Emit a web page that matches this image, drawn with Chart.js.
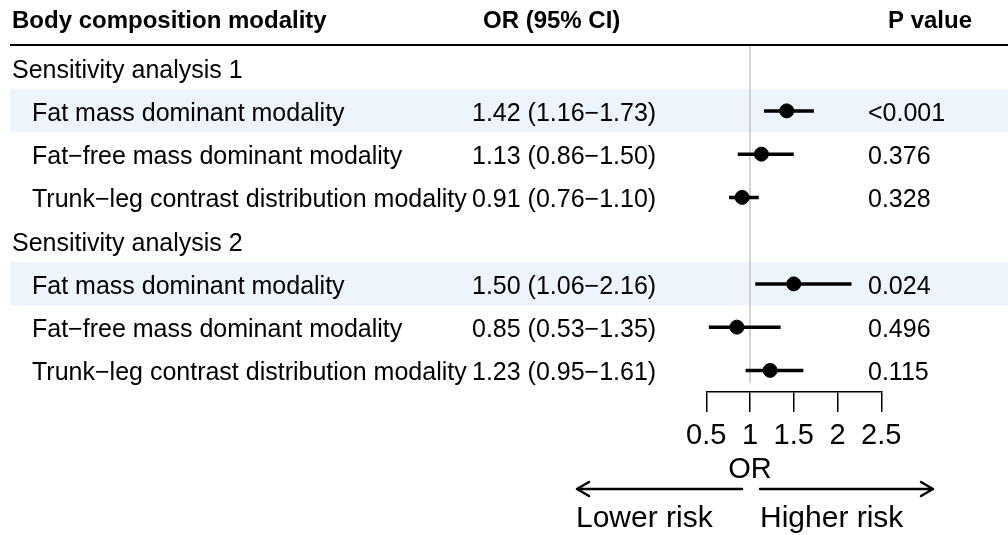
<!DOCTYPE html>
<html>
<head>
<meta charset="utf-8">
<script src="https://cdn.jsdelivr.net/npm/chart.js@4"></script>
<style>
  body { margin: 0; background: #fff; }
</style>
</head>
<body>
<canvas id="forest" width="1008" height="535"></canvas>
<script>
// Forest plot data
const groups = ["Sensitivity analysis 1", "Sensitivity analysis 2"];
const modalities = ["Fat mass dominant modality", "Fat\u2212free mass dominant modality", "Trunk\u2212leg contrast distribution modality"];
const orValues = [1.42, 1.13, 0.91, 1.50, 0.85, 1.23];
const ciLow = [1.16, 0.86, 0.76, 1.06, 0.53, 0.95];
const ciHigh = [1.73, 1.50, 1.10, 2.16, 1.35, 1.61];
const pValues = ["<0.001", "0.376", "0.328", "0.024", "0.496", "0.115"];
const xTicks = [0.5, 1, 1.5, 2, 2.5];
const highlighted = [0, 3]; // item indices with shaded band

const FONT = '"Liberation Sans", Arial, sans-serif';

// rows: group header, then its 3 items
const rows = [];
groups.forEach((g, gi) => {
  rows.push({ type: "group", text: g });
  modalities.forEach((m, mi) => rows.push({ type: "item", text: m, idx: gi * modalities.length + mi }));
});
const rowOf = idx => rows.findIndex(r => r.type === "item" && r.idx === idx);

const ciSets = orValues.map((v, i) => ({
  type: "scatter",
  showLine: true,
  data: [{ x: ciLow[i], y: rowOf(i) }, { x: ciHigh[i], y: rowOf(i) }],
  borderColor: "#000",
  borderWidth: 3.5,
  pointRadius: 0,
  order: 2
}));

const pointSet = {
  type: "scatter",
  data: orValues.map((v, i) => ({ x: v, y: rowOf(i) })),
  backgroundColor: "#000",
  borderColor: "#000",
  pointRadius: 7,
  order: 1
};

const tablePlugin = {
  id: "table",
  beforeDatasetsDraw(chart) {
    const { ctx, scales: { x, y }, chartArea } = chart;
    ctx.save();
    // shaded bands
    ctx.fillStyle = "#edf4fc";
    highlighted.forEach(i => {
      const r = rowOf(i);
      const t = y.getPixelForValue(r - 0.5), b = y.getPixelForValue(r + 0.5);
      ctx.fillRect(10, t, 1008 - 10, b - t);
    });
    // header rule
    ctx.fillStyle = "#000";
    ctx.fillRect(10, 44, 998, 2);
    // reference line at OR = 1
    const p1 = x.getPixelForValue(1);
    ctx.strokeStyle = "#c4c4c4";
    ctx.lineWidth = 1.5;
    ctx.beginPath();
    ctx.moveTo(p1, chartArea.top);
    ctx.lineTo(p1, y.getPixelForValue(7.3));
    ctx.stroke();
    ctx.restore();
  },
  afterDraw(chart) {
    const { ctx, scales: { x, y } } = chart;
    ctx.save();
    ctx.fillStyle = "#000";
    ctx.textBaseline = "alphabetic";
    ctx.textAlign = "left";
    // header
    ctx.font = "bold 24px " + FONT;
    ctx.fillText("Body composition modality", 12, 28);
    ctx.fillText("OR (95% CI)", 483, 28);
    ctx.fillText("P value", 888, 28);
    // rows
    ctx.font = "25px " + FONT;
    rows.forEach((r, k) => {
      const base = y.getPixelForValue(k) + 10;
      if (r.type === "group") {
        ctx.fillText(r.text, 12, base);
      } else {
        const i = r.idx;
        ctx.fillText(r.text, 32, base);
        ctx.fillText(orValues[i].toFixed(2) + " (" + ciLow[i].toFixed(2) + "\u2212" + ciHigh[i].toFixed(2) + ")", 472, base);
        ctx.fillText(pValues[i], 868, base);
      }
    });
    // axis title and risk arrows
    const p1 = x.getPixelForValue(1);
    ctx.font = "29px " + FONT;
    ctx.textAlign = "center";
    ctx.fillText("OR", p1, 478);
    const ay = 489;
    ctx.strokeStyle = "#000";
    ctx.lineWidth = 2.5;
    ctx.lineCap = "round";
    ctx.lineJoin = "round";
    const arrow = (from, to) => {
      ctx.beginPath();
      ctx.moveTo(from, ay);
      ctx.lineTo(to, ay);
      const d = to > from ? -1 : 1;
      ctx.moveTo(to + d * 12, ay - 7);
      ctx.lineTo(to, ay);
      ctx.lineTo(to + d * 12, ay + 7);
      ctx.stroke();
    };
    arrow(p1 - 8, 577);
    arrow(p1 + 10, 933);
    ctx.textAlign = "left";
    ctx.font = "30px " + FONT;
    ctx.fillText("Lower risk", 576, 527);
    ctx.fillText("Higher risk", 760, 527);
    ctx.restore();
  }
};

new Chart(document.getElementById("forest"), {
  type: "scatter",
  data: { datasets: [...ciSets, pointSet] },
  options: {
    responsive: false,
    animation: false,
    layout: { padding: { left: 706.25, right: 126.75, top: 46, bottom: 0 } },
    plugins: { legend: { display: false }, tooltip: { enabled: false } },
    scales: {
      x: {
        type: "linear",
        min: 0.5,
        max: 2.5,
        afterBuildTicks: s => { s.ticks = xTicks.map(v => ({ value: v })); },
        afterFit: s => { s.height = 535 - 46 - 346; },
        grid: { drawOnChartArea: false, drawTicks: true, tickLength: 20, color: "#000", lineWidth: 1.5 },
        border: { display: true, color: "#000", width: 1.5 },
        ticks: { color: "#000", font: { family: FONT, size: 29 }, padding: 7, maxRotation: 0, callback: v => String(v) }
      },
      y: {
        type: "linear",
        display: false,
        reverse: true,
        min: -0.5,
        max: 7.5
      }
    }
  },
  plugins: [tablePlugin]
});
</script>
</body>
</html>
